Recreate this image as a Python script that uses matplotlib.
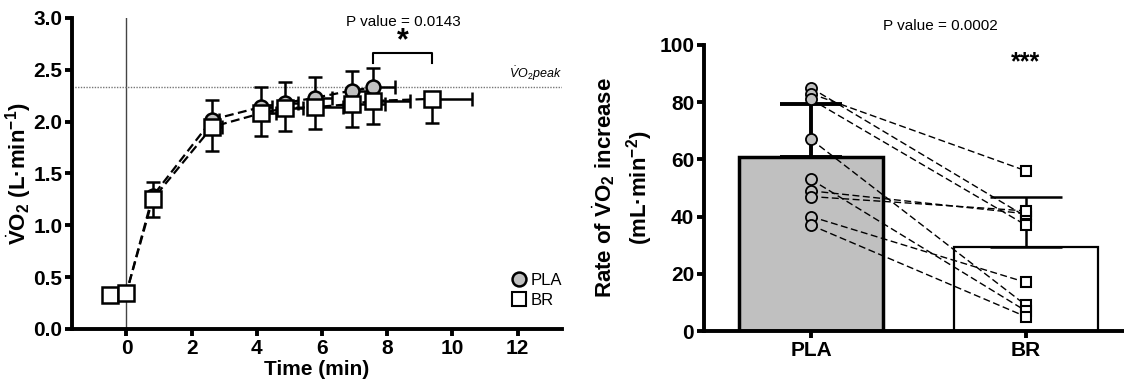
import numpy as np
import matplotlib
matplotlib.use("Agg")
import matplotlib.pyplot as plt
from matplotlib.lines import Line2D

plt.rcParams["font.family"] = ["Liberation Sans", "DejaVu Sans"]
plt.rcParams["mathtext.fontset"] = "custom"
plt.rcParams["mathtext.rm"] = "Liberation Sans"
plt.rcParams["mathtext.bf"] = "Liberation Sans:bold"
plt.rcParams["mathtext.it"] = "Liberation Sans:italic"

# %% data - left panel (VO2 kinetics)
pla_t = [-0.5, 0, 0.8, 2.63, 4.12, 4.85, 5.78, 6.91, 7.57]
pla_vo2 = [0.33, 0.35, 1.28, 2.02, 2.14, 2.18, 2.23, 2.30, 2.33]
pla_up = [0.02, 0.02, 0.14, 0.19, 0.19, 0.20, 0.20, 0.19, 0.19]
pla_tx = [0.05, 0.05, 0.1, 0.2, 0.35, 0.4, 0.52, 0.55, 0.66]

br_t = [-0.5, 0, 0.8, 2.63, 4.12, 4.85, 5.78, 6.91, 7.57, 9.37]
br_vo2 = [0.33, 0.35, 1.25, 1.95, 2.08, 2.13, 2.14, 2.17, 2.20, 2.22]
br_down = [0.02, 0.02, 0.17, 0.23, 0.22, 0.22, 0.21, 0.22, 0.22, 0.23]
br_tx = [0.05, 0.05, 0.12, 0.29, 0.48, 0.55, 0.87, 1.02, 1.13, 1.23]

vo2peak = 2.33

# %% data - right panel (rate of increase)
groups = ["PLA", "BR"]
bar_mean = [61, 29.5]
bar_sd = [18.5, 17.5]
pla_ind = [85, 83, 81, 67, 53, 49, 47, 40, 37]
br_ind = [40, 56, 37, 9, 7, 41, 42, 17, 5]

grey = "#c0c0c0"

fig = plt.figure(figsize=(11.24, 3.81), dpi=100)

# %% left panel
ax = fig.add_axes([0.0641, 0.1365, 0.4359, 0.8163])

ax.axvline(0, color="#444444", lw=1, zorder=0)
ax.axhline(vo2peak, color="#777777", lw=1, ls=(0, (1, 1)), zorder=0)

n = len(pla_t)
ax.errorbar(pla_t, pla_vo2, yerr=[np.zeros(n), pla_up], xerr=[np.zeros(n), pla_tx],
            fmt="o", color="black", ls=(0, (4, 2)), lw=1.6, ms=10,
            mfc=grey, mec="black", mew=1.8, ecolor="black", elinewidth=1.8,
            capsize=5, capthick=1.8, zorder=3)
m = len(br_t)
ax.errorbar(br_t, br_vo2, yerr=[br_down, np.zeros(m)], xerr=[np.zeros(m), br_tx],
            fmt="s", color="black", ls=(0, (4, 2)), lw=1.6, ms=11,
            mfc="white", mec="black", mew=1.8, ecolor="black", elinewidth=1.8,
            capsize=5, capthick=1.8, zorder=4)

ax.set_xlim(-1.67, 13.36)
ax.set_ylim(0, 3.0)
ax.set_xticks(range(0, 13, 2))
ax.set_yticks(np.arange(0, 3.01, 0.5))
ax.set_yticklabels(["%.1f" % v for v in np.arange(0, 3.01, 0.5)])

# bracket + star
ax.plot([7.57, 7.57, 9.37, 9.37], [2.57, 2.66, 2.66, 2.57], color="black", lw=1.5, clip_on=False)
ax.text(8.47, 2.63, "*", ha="center", va="bottom", fontsize=22, fontweight="bold")
ax.text(8.5, 2.96, "P value = 0.0143", ha="center", va="center", fontsize=11)
ax.text(13.36, 2.37, r"$\dot{V}O_2peak$", ha="right", va="bottom", fontsize=9,
        style="italic")

ax.set_xlabel("Time (min)", fontsize=15, fontweight="bold", labelpad=2)
ax.set_ylabel(r"$\dot{\mathbf{V}}\mathbf{O}_\mathbf{2}$ (L·min$^{\mathbf{-1}}$)",
              fontsize=16, fontweight="bold")
ax.yaxis.set_label_coords(-0.077, 0.5)

handles = [Line2D([], [], marker="o", ls="none", ms=10, mfc=grey, mec="black", mew=1.8),
           Line2D([], [], marker="s", ls="none", ms=10, mfc="white", mec="black", mew=1.5)]
ax.legend(handles, ["PLA", "BR"], loc="lower right", bbox_to_anchor=(1.03, 0.02),
          frameon=False, fontsize=12, handletextpad=0.1, labelspacing=0.3, handlelength=1.2)

# %% right panel
ax2 = fig.add_axes([0.6263, 0.1312, 0.3737, 0.7507])
x = np.arange(len(groups))
ax2.bar(x[0], bar_mean[0], width=0.67, color=grey, edgecolor="black", lw=2.5, zorder=1)
ax2.bar(x[1], bar_mean[1], width=0.67, color="white", edgecolor="black", lw=1.6, zorder=1)
ax2.errorbar(x[0], bar_mean[0], yerr=[[0], [bar_sd[0]]], fmt="none", ecolor="black",
             elinewidth=2.8, capsize=22, capthick=2.8, zorder=2)
ax2.errorbar(x[1], bar_mean[1], yerr=[[0], [bar_sd[1]]], fmt="none", ecolor="black",
             elinewidth=1.8, capsize=26, capthick=1.8, zorder=2)

for a, b in zip(pla_ind, br_ind):
    ax2.plot([x[0], x[1]], [a, b], color="black", lw=1, ls=(0, (5, 2.5)), zorder=3)
ax2.plot([x[0]] * len(pla_ind), pla_ind, "o", ms=8, mfc=grey, mec="black", mew=1.3, zorder=4)
ax2.plot([x[1]] * len(br_ind), br_ind, "s", ms=7.5, mfc="white", mec="black", mew=1.5, zorder=4)

ax2.set_xlim(-0.498, 1.456)
ax2.set_ylim(0, 100)
ax2.set_yticks(range(0, 101, 20))
ax2.set_xticks(x)
ax2.set_xticklabels(groups)
ax2.text(x[1], 94, "***", ha="center", va="center", fontsize=18, fontweight="bold")
ax2.text(0.6, 106.5, "P value = 0.0002", ha="center", va="center", fontsize=11, clip_on=False)
ax2.set_ylabel("Rate of " + r"$\dot{\mathbf{V}}\mathbf{O}_\mathbf{2}$" + " increase\n(mL·min$^{\mathbf{-2}}$)",
               fontsize=16, fontweight="bold", labelpad=3, linespacing=1.3)

for a in (ax, ax2):
    for s in ("top", "right"):
        a.spines[s].set_visible(False)
    for s in ("left", "bottom"):
        a.spines[s].set_linewidth(2.8)
    a.tick_params(width=2.8, length=5, labelsize=15, pad=2)
    for lab in a.get_xticklabels() + a.get_yticklabels():
        lab.set_fontweight("bold")

fig.savefig("out.png", dpi=100)
